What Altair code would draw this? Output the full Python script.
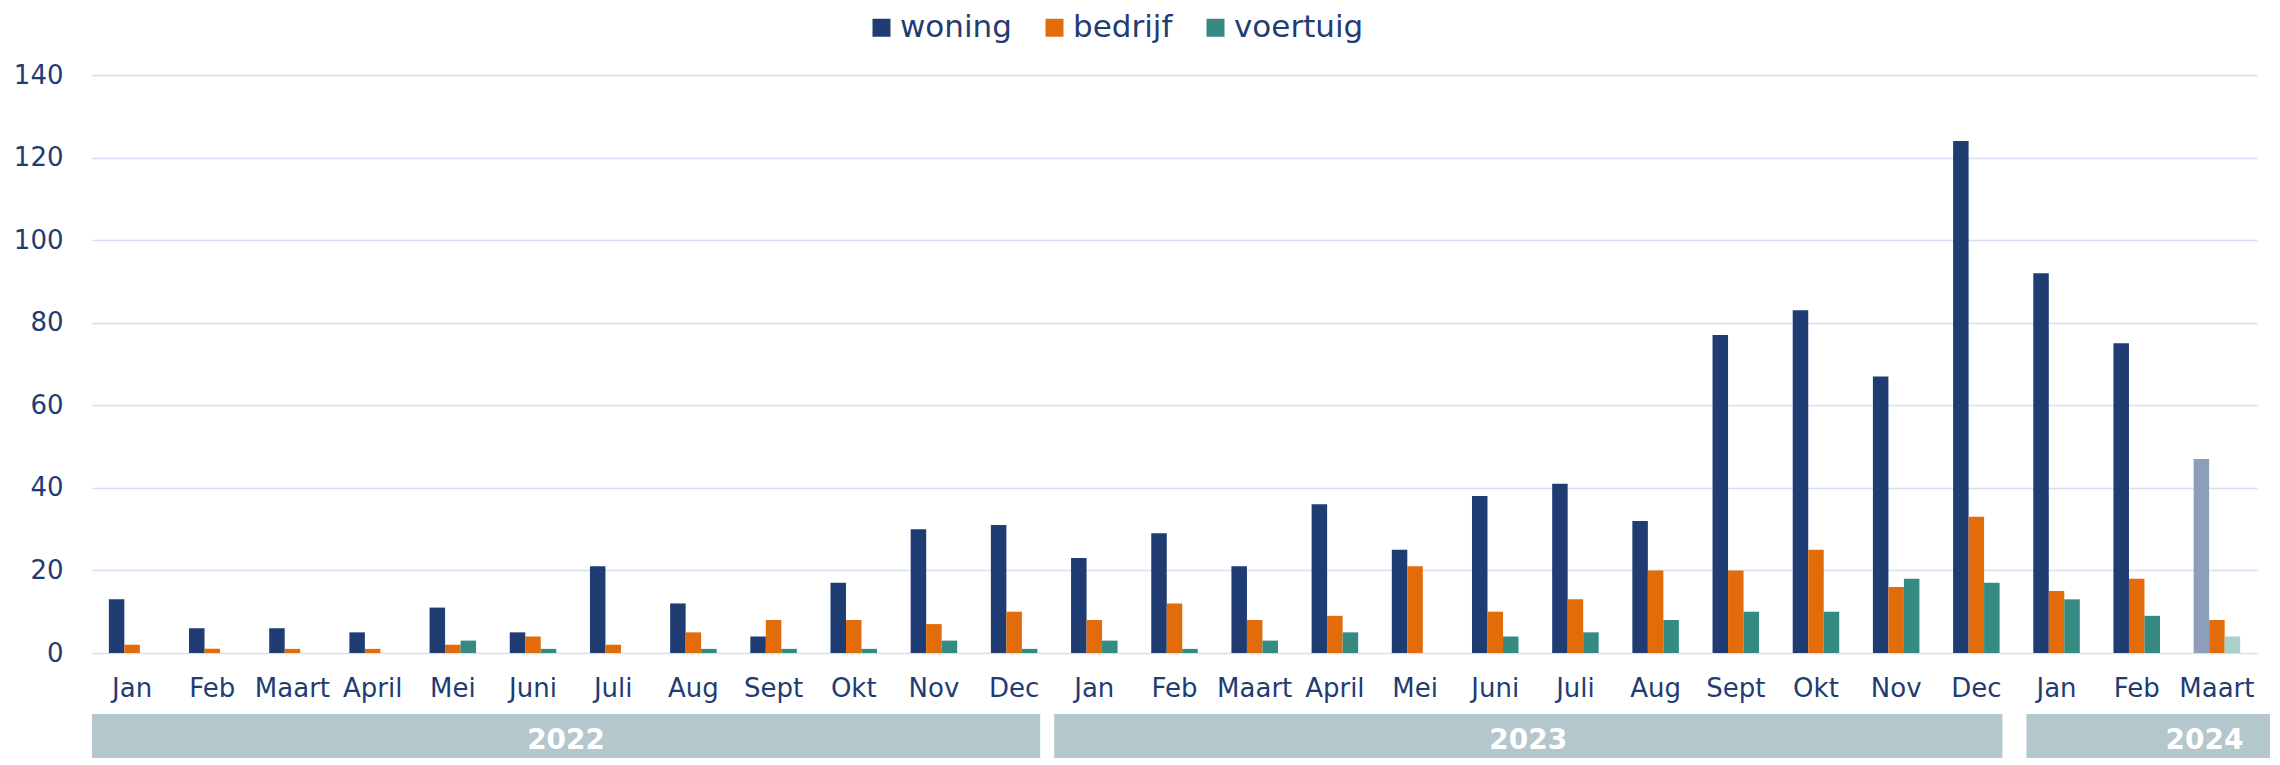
import altair as alt
import pandas as pd

# ---- data -------------------------------------------------------------
maanden = ["Jan", "Feb", "Maart", "April", "Mei", "Juni", "Juli", "Aug", "Sept", "Okt", "Nov", "Dec",
           "Jan", "Feb", "Maart", "April", "Mei", "Juni", "Juli", "Aug", "Sept", "Okt", "Nov", "Dec",
           "Jan", "Feb", "Maart"]
jaren = ["2022"] * 12 + ["2023"] * 12 + ["2024"] * 3
woning = [13, 6, 6, 5, 11, 5, 21, 12, 4, 17, 30, 31,
          23, 29, 21, 36, 25, 38, 41, 32, 77, 83, 67, 124,
          92, 75, 47]
bedrijf = [2, 1, 1, 1, 2, 4, 2, 5, 8, 8, 7, 10,
           8, 12, 8, 9, 21, 10, 13, 20, 20, 25, 16, 33,
           15, 18, 8]
voertuig = [0, 0, 0, 0, 3, 1, 0, 1, 1, 1, 3, 1,
            3, 1, 3, 5, 0, 4, 5, 8, 10, 10, 18, 17,
            13, 9, 4]
series = ["woning", "bedrijf", "voertuig"]
voorlopig = ["2024-Maart"]          # incomplete month (lighter bars)

jaar_labels = ["2022", "2023", "2024"]
jaar_start = [0, 12, 24]
jaar_eind = [12, 24, 27]

# ---- style ------------------------------------------------------------
NAVY = "#1f3c73"
ORANGE = "#e36c0a"
TEAL = "#358a82"
BAND = "#b3c7cd"
GRID = "#d4dff2"
FONT = "DejaVu Sans"
W, H = 2165, 578

keys = [f"{j}-{m}" for j, m in zip(jaren, maanden)]
rows = []
for i, k in enumerate(keys):
    for s, vals in zip(series, [woning, bedrijf, voertuig]):
        kleur = s + (" (voorlopig)" if k in voorlopig else "")
        rows.append({"key": k, "serie": s, "waarde": vals[i], "kleur": kleur})
df = pd.DataFrame(rows)

band_df = pd.DataFrame({"jaar": jaar_labels, "start": jaar_start, "eind": jaar_eind})

kleur_domein = series + [s + " (voorlopig)" for s in series]
kleur_range = [NAVY, ORANGE, TEAL, "#8e9dba", ORANGE, "#abcfcc"]

bars = alt.Chart(df).mark_bar().encode(
    x=alt.X("key:N", sort=keys,
            scale=alt.Scale(paddingInner=0.42, paddingOuter=0.21),
            axis=alt.Axis(title=None, labelExpr="split(datum.label, '-')[1]", labelAngle=0,
                          ticks=False, domain=False, grid=False, labelPadding=22,
                          labelFontSize=26, labelFont=FONT, labelColor=NAVY)),
    xOffset=alt.XOffset("serie:N", sort=series,
                        scale=alt.Scale(paddingInner=0, paddingOuter=0)),
    y=alt.Y("waarde:Q", scale=alt.Scale(domain=[0, 140], nice=False),
            axis=alt.Axis(title=None, values=list(range(0, 141, 20)), ticks=False, domain=False,
                          grid=True, gridColor=GRID, gridWidth=1.5, labelPadding=29,
                          labelFontSize=26, labelFont=FONT, labelColor=NAVY)),
    color=alt.Color("kleur:N",
                    scale=alt.Scale(domain=kleur_domein, range=kleur_range),
                    legend=alt.Legend(values=series, title=None, orient="none",
                                      direction="horizontal", legendX=774, legendY=-63,
                                      symbolType="square", symbolSize=324,
                                      symbolStrokeWidth=0, labelFontSize=31,
                                      labelFont=FONT, labelColor=NAVY, labelOffset=3,
                                      columnPadding=27)),
)

xq = alt.Scale(domain=[0, 27], nice=False, zero=False)

closed_bands = alt.Chart(band_df).transform_filter(
    "datum.jaar != '2024'"
).mark_rect(color=BAND, xOffset=0, x2Offset=-14).encode(
    x=alt.X("start:Q", scale=xq, axis=None),
    x2="eind:Q",
    y=alt.value(639),
    y2=alt.value(683),
)

open_band = alt.Chart(band_df).transform_filter(
    "datum.jaar == '2024'"
).mark_rect(color=BAND, xOffset=10).encode(
    x=alt.X("start:Q", scale=xq, axis=None),
    x2=alt.value(W + 13),
    y=alt.value(639),
    y2=alt.value(683),
)

closed_text = alt.Chart(band_df).transform_filter(
    "datum.jaar != '2024'"
).transform_calculate(
    mid="(datum.start + datum.eind) / 2"
).mark_text(color="white", fontSize=28, fontWeight="bold", font=FONT,
            align="center", baseline="middle", dx=-7).encode(
    x=alt.X("mid:Q", scale=xq, axis=None),
    y=alt.value(666),
    text="jaar:N",
)

open_text = alt.Chart(band_df).transform_filter(
    "datum.jaar == '2024'"
).mark_text(color="white", fontSize=28, fontWeight="bold", font=FONT,
            align="center", baseline="middle", dx=188).encode(
    x=alt.X("start:Q", scale=xq, axis=None),
    y=alt.value(666),
    text="jaar:N",
)

chart = alt.layer(bars, closed_bands, open_band, closed_text, open_text).resolve_scale(
    x="independent"
).properties(
    width=W, height=H,
    padding={"left": 5, "top": 4, "right": 0, "bottom": 0},
).configure_view(stroke=None)

chart.save("out.html", embed_options={"renderer": "svg", "actions": False})
